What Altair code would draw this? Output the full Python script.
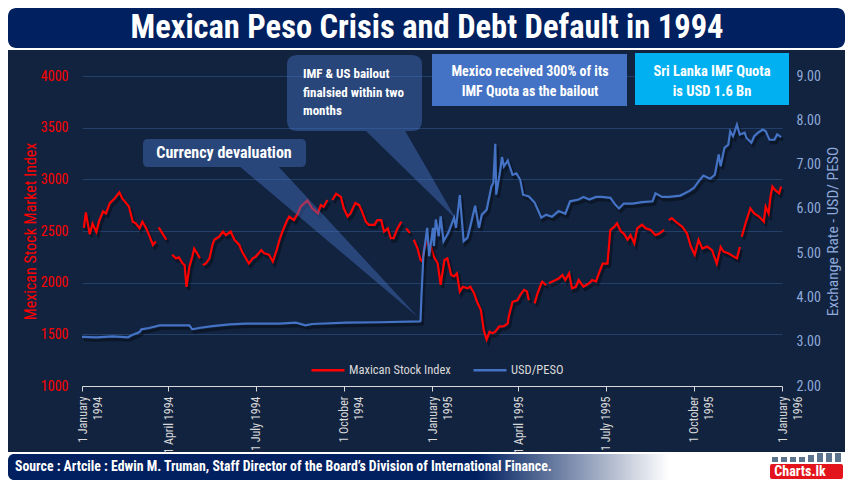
import json
import altair as alt
import pandas as pd

FONT = "Roboto Condensed, DejaVu Sans Condensed, sans-serif"

# ---------------- data ----------------
stock_dates = [
    "1994-01-03", "1994-01-05", "1994-01-09", "1994-01-12", "1994-01-16", "1994-01-19", "1994-01-23",
    "1994-01-26", "1994-01-30", "1994-02-04", "1994-02-09", "1994-02-12", "1994-02-16", "1994-02-19",
    "1994-02-23", "1994-02-26", "1994-03-02", "1994-03-05", "1994-03-09", "1994-03-12", "1994-03-16",
    "1994-03-19", "1994-03-20", "1994-03-22", "1994-03-26", "1994-03-30", "1994-04-01", "1994-04-05",
    "1994-04-09", "1994-04-12", "1994-04-16", "1994-04-18", "1994-04-20", "1994-04-23", "1994-04-26",
    "1994-04-28", "1994-05-01", "1994-05-04", "1994-05-05", "1994-05-07", "1994-05-10", "1994-05-14",
    "1994-05-17", "1994-05-19", "1994-05-24", "1994-05-28", "1994-05-31", "1994-06-05", "1994-06-09",
    "1994-06-14", "1994-06-17", "1994-06-24", "1994-06-28", "1994-07-01", "1994-07-07", "1994-07-10",
    "1994-07-15", "1994-07-19", "1994-07-23", "1994-07-26", "1994-07-29", "1994-08-03", "1994-08-05",
    "1994-08-10", "1994-08-14", "1994-08-17", "1994-08-24", "1994-08-29", "1994-09-04", "1994-09-07",
    "1994-09-10", "1994-09-14", "1994-09-16", "1994-09-19", "1994-09-23", "1994-09-28", "1994-10-01",
    "1994-10-05", "1994-10-08", "1994-10-13", "1994-10-17", "1994-10-20", "1994-10-24", "1994-10-27",
    "1994-11-02", "1994-11-05", "1994-11-09", "1994-11-12", "1994-11-16", "1994-11-19", "1994-11-22",
    "1994-11-26", "1994-11-30", "1994-12-02", "1994-12-05", "1994-12-09", "1994-12-11", "1994-12-13",
    "1994-12-17", "1994-12-20", "1994-12-22", "1994-12-24", "1994-12-27", "1994-12-31",
    "1995-01-03", "1995-01-07", "1995-01-10", "1995-01-14", "1995-01-17", "1995-01-21", "1995-01-24",
    "1995-01-27", "1995-01-30", "1995-02-02", "1995-02-07", "1995-02-10", "1995-02-14", "1995-02-17",
    "1995-02-21", "1995-02-24", "1995-02-27", "1995-03-02", "1995-03-05", "1995-03-08", "1995-03-12",
    "1995-03-17", "1995-03-21", "1995-03-22", "1995-03-26", "1995-03-31", "1995-04-04", "1995-04-07",
    "1995-04-10", "1995-04-12", "1995-04-15", "1995-04-18", "1995-04-21", "1995-04-25", "1995-04-26",
    "1995-04-30", "1995-05-01", "1995-05-03", "1995-05-06", "1995-05-10", "1995-05-13", "1995-05-17",
    "1995-05-20", "1995-05-24", "1995-05-27", "1995-05-31", "1995-06-03", "1995-06-08", "1995-06-14",
    "1995-06-17", "1995-06-21", "1995-06-24", "1995-06-28", "1995-07-03", "1995-07-06", "1995-07-10",
    "1995-07-13", "1995-07-17", "1995-07-20", "1995-07-24", "1995-07-27", "1995-07-31", "1995-08-03",
    "1995-08-08", "1995-08-12", "1995-08-17", "1995-08-22", "1995-08-26", "1995-08-31", "1995-09-02",
    "1995-09-05", "1995-09-08", "1995-09-14", "1995-09-19", "1995-09-24", "1995-09-28", "1995-10-02",
    "1995-10-06", "1995-10-10", "1995-10-15", "1995-10-20", "1995-10-25", "1995-10-29", "1995-11-01",
    "1995-11-06", "1995-11-12", "1995-11-15", "1995-11-18", "1995-11-19", "1995-11-20", "1995-11-24",
    "1995-11-29", "1995-12-03", "1995-12-08", "1995-12-13", "1995-12-15", "1995-12-18", "1995-12-20",
    "1995-12-22", "1995-12-25", "1995-12-29", "1995-12-31",
]
stock_values = [
    2530, 2680, 2470, 2570, 2490, 2600, 2690,
    2670, 2770, 2815, 2875, 2815, 2770, 2735,
    2590, 2575, 2525, 2590, 2525, 2460, 2365,
    2400, None, 2535, 2475, 2415, None, 2270,
    2235, 2245, 2185, 2170, 1960, 2155, 2250,
    2330, 2285, 2235, None, 2170, 2185, 2235,
    2365, 2415, 2445, 2495, 2460, 2495, 2415,
    2365, 2300, 2185, 2235, 2250, 2315, 2285,
    2270, 2205, 2315, 2415, 2495, 2605, 2640,
    2605, 2670, 2735, 2795, 2720, 2670, 2750,
    2735, 2800, None, 2800, 2860, 2830, 2720,
    2640, 2670, 2770, 2750, 2690, 2590, 2560,
    2560, 2605, 2605, 2495, 2525, 2430, 2430,
    2525, 2590, None, 2525, 2480, None, 2415,
    2330, 2220, 2205, 2330, 2395, 2350,
    2250, 2185, 1980, 2220, 2235, 2075, 2060,
    2090, 1915, 1960, 1945, 1960, 1895, 1815,
    1735, 1540, 1450, 1525, 1510, 1525, 1575,
    1580, 1605, 1670, 1815, 1830, 1895, 1930,
    1915, 1830, None, 1800, 1895, 1995, 2010,
    1975, None, 1995, 2010, 2025, 2040, 2075,
    2025, 2090, 1945, 1960, 2025, 1960, 1995,
    2025, 2010, 2090, 2185, 2185, 2510, 2540,
    2575, 2495, 2475, 2415, 2460, 2380, 2525,
    2560, 2525, 2510, 2460, 2475, 2510, None,
    2605, 2625, 2575, 2540, 2475, 2350, 2270,
    2415, 2330, 2350, 2315, 2185, 2345, 2300,
    2285, 2250, 2235, 2345, None, 2445, 2575,
    2720, 2670, 2640, 2590, 2735, 2670, 2830,
    2930, 2895, 2865, 2930,
]

peso_dates = [
    "1994-01-01", "1994-01-16", "1994-02-02", "1994-02-18", "1994-02-23", "1994-03-02", "1994-03-04",
    "1994-03-12", "1994-03-23", "1994-04-23", "1994-04-26", "1994-05-03", "1994-05-17", "1994-06-04",
    "1994-06-21", "1994-07-26", "1994-08-12", "1994-08-22", "1994-08-29", "1994-10-03", "1994-11-07",
    "1994-12-19", "1994-12-20", "1994-12-21", "1994-12-23", "1994-12-27", "1994-12-29",
    "1995-01-02", "1995-01-03", "1995-01-05", "1995-01-08", "1995-01-10", "1995-01-13", "1995-01-18",
    "1995-01-24", "1995-01-26", "1995-01-30", "1995-02-03", "1995-02-07", "1995-02-10", "1995-02-15",
    "1995-02-19", "1995-02-22", "1995-02-27", "1995-03-04", "1995-03-06", "1995-03-08", "1995-03-09",
    "1995-03-13", "1995-03-15", "1995-03-17", "1995-03-21", "1995-03-26", "1995-03-30", "1995-04-03",
    "1995-04-06", "1995-04-12", "1995-04-18", "1995-04-22", "1995-04-25", "1995-04-30", "1995-05-06",
    "1995-05-13", "1995-05-20", "1995-05-25", "1995-06-03", "1995-06-08", "1995-06-14", "1995-06-21",
    "1995-06-27", "1995-07-06", "1995-07-11", "1995-07-15", "1995-07-20", "1995-07-29", "1995-08-08",
    "1995-08-19", "1995-08-22", "1995-08-29", "1995-09-05", "1995-09-17", "1995-09-26", "1995-10-01",
    "1995-10-06", "1995-10-11", "1995-10-18", "1995-10-23", "1995-10-27", "1995-10-29", "1995-11-02",
    "1995-11-06", "1995-11-08", "1995-11-11", "1995-11-15", "1995-11-18", "1995-11-23", "1995-11-25",
    "1995-11-30", "1995-12-03", "1995-12-07", "1995-12-12", "1995-12-15", "1995-12-19", "1995-12-24",
    "1995-12-27", "1995-12-31",
]
peso_values = [
    3.11, 3.10, 3.12, 3.10, 3.16, 3.22, 3.28,
    3.31, 3.37, 3.37, 3.28, 3.31, 3.35, 3.39,
    3.41, 3.41, 3.43, 3.37, 3.40, 3.43, 3.44,
    3.46, 3.47, 4.03, 4.93, 5.57, 4.93,
    5.57, 5.16, 5.76, 5.38, 5.83, 5.27, 5.46,
    5.80, 5.57, 6.31, 5.27, 5.35, 5.61, 6.07,
    5.57, 5.87, 5.98, 6.51, 6.59, 7.47, 6.32,
    6.85, 7.17, 6.96, 7.09, 6.77, 6.80, 6.66,
    6.32, 6.28, 6.14, 5.95, 5.80, 5.87, 5.82,
    5.95, 5.89, 6.17, 6.21, 6.27, 6.21, 6.27,
    6.27, 6.25, 6.10, 6.01, 6.12, 6.12, 6.15,
    6.17, 6.35, 6.27, 6.27, 6.30, 6.40, 6.47,
    6.62, 6.75, 6.68, 6.77, 7.23, 6.96, 7.38,
    7.45, 7.75, 7.64, 7.90, 7.68, 7.72, 7.60,
    7.49, 7.64, 7.72, 7.79, 7.75, 7.56, 7.56,
    7.68, 7.62,
]

series_names = ["Maxican Stock Index", "USD/PESO"]
series_colors = ["#ff0000", "#4472c4"]

tick_dates = ["1994-01", "1994-04", "1994-07", "1994-10", "1995-01", "1995-04", "1995-07", "1995-10", "1996-01"]
tick_labels = ["1 January|1994", "1 April 1994", "1 July 1994", "1 October|1994", "1 January|1995",
               "1 April 1995", "1 July 1995", "1 October|1995", "1 January|1996"]
left_ticks = [1000, 1500, 2000, 2500, 3000, 3500, 4000]
right_ticks = [2, 3, 4, 5, 6, 7, 8, 9]

title_text = "Mexican Peso Crisis and Debt Default in 1994"
source_text = "Source : Artcile : Edwin M. Truman, Staff Director of the Board\u2019s Division of International Finance."
note_devaluation = "Currency devaluation"
note_bailout = "IMF & US bailout\nfinalsied  within two\nmonths"
note_quota = "Mexico received 300% of its\nIMF Quota as the bailout"
note_srilanka = "Sri Lanka IMF Quota\nis USD 1.6 Bn"


def to_frame(dates, values, name):
    rows, seg = [], 0
    for d, v in zip(dates, values):
        if v is None:
            seg += 1
            continue
        rows.append({"date": d, "value": v, "seg": seg, "series": name})
    return pd.DataFrame(rows)


stock_df = to_frame(stock_dates, stock_values, series_names[0])
peso_df = to_frame(peso_dates, peso_values, series_names[1])

# ---------------- scales / axes ----------------
def dt(s):
    y, m = s.split("-")
    return alt.DateTime(year=int(y), month=int(m), date=1, utc=True)

label_expr = "split({}[indexof({}, utcFormat(datum.value, '%Y-%m'))], '|')".format(
    json.dumps(tick_labels), json.dumps(tick_dates))

x_enc = alt.X(
    "date:T",
    scale=alt.Scale(type="utc", domain=[dt("1994-01"), dt("1996-01")]),
    axis=alt.Axis(values=[dt(t) for t in tick_dates], labelExpr=label_expr, labelAngle=270,
                  labelAlign="right", labelBaseline="middle", labelColor="#d9d9d9", labelFont=FONT,
                  labelFontSize=12, labelLineHeight=15, labelPadding=5, tickSize=5, tickColor="#d9d9d9",
                  domainColor="#d9d9d9", domainWidth=1.2, grid=False, title=None, labelOverlap=False,
                  labelFlush=False, labelBound=False, zindex=1),
)

color_enc = alt.Color("series:N", scale=alt.Scale(domain=series_names, range=series_colors),
                      legend=alt.Legend(orient="none", legendX=228, legendY=276, direction="horizontal",
                                        title=None, symbolType="stroke", symbolSize=1089,
                                        symbolStrokeWidth=2.5, labelColor="#d9d9d9", labelFont=FONT,
                                        labelFontSize=12.5, labelOffset=3, columnPadding=17))

y_left = alt.Y("value:Q", scale=alt.Scale(domain=[1000, 4000], nice=False, zero=False),
               axis=alt.Axis(values=left_ticks, format="d", title="Mexican Stock Market Index",
                             titleColor="#ff0000", titleFont=FONT, titleFontSize=16,
                             titleFontWeight="normal", titlePadding=2,
                             labelColor="#ff0000", labelFont=FONT, labelFontSize=14, labelPadding=14,
                             domain=False, ticks=False, grid=True, gridColor="#22406a", gridWidth=1))

y_right = alt.Y("value:Q", scale=alt.Scale(domain=[2, 9], nice=False, zero=False),
                axis=alt.Axis(values=right_ticks, orient="right", format=".2f",
                              title="Exchange Rate - USD/ PESO", titleColor="#8faadc", titleFont=FONT,
                              titleFontSize=15.5, titleFontWeight="normal", titleAngle=270,
                              titleBaseline="top", titlePadding=5, labelColor="#8faadc", labelFont=FONT,
                              labelFontSize=14, labelPadding=14, domain=False, ticks=False, grid=False))

stock_base = alt.Chart(stock_df)
peso_base = alt.Chart(peso_df)

stock_group = alt.layer(
    stock_base.mark_line(color="black", opacity=0.35, strokeWidth=3, xOffset=2, yOffset=3).encode(
        x=x_enc, y=y_left, detail="seg:N"),
    stock_base.mark_line(strokeWidth=2.2).encode(x=x_enc, y=y_left, detail="seg:N", color=color_enc),
)
peso_group = alt.layer(
    peso_base.mark_line(color="black", opacity=0.35, strokeWidth=3, xOffset=2, yOffset=3).encode(
        x=x_enc, y=y_right, detail="seg:N"),
    peso_base.mark_line(strokeWidth=2.2).encode(x=x_enc, y=y_right, detail="seg:N", color=color_enc),
)

# ---------------- decorations (pixel space, origin = plot top-left) ----------------
one = alt.Chart(pd.DataFrame({"k": [0]}))


def rect(x0, y0, x1, y1, **kw):
    return one.mark_rect(**kw).encode(x=alt.value(x0), x2=alt.value(x1), y=alt.value(y0), y2=alt.value(y1))


def text(x, y, s, **kw):
    base = dict(font=FONT, color="white", fontWeight="bold")
    base.update(kw)
    return one.mark_text(text=s, lineBreak="\n", **base).encode(x=alt.value(x), y=alt.value(y))


def rrect_path(x0, y0, x1, y1, r):
    return (f"M{x0+r},{y0}H{x1-r}Q{x1},{y0} {x1},{y0+r}V{y1-r}Q{x1},{y1} {x1-r},{y1}"
            f"H{x0+r}Q{x0},{y1} {x0},{y1-r}V{y0+r}Q{x0},{y0} {x0+r},{y0}Z")


def shape(path, **kw):
    return one.mark_point(shape=path, size=4, filled=True, strokeWidth=0, **kw).encode(
        x=alt.value(0), y=alt.value(0))


footer_grad = alt.Gradient(gradient="linear", x1=0, y1=0, x2=1, y2=0, stops=[
    alt.GradientStop(offset=0, color="#002060"), alt.GradientStop(offset=0.56, color="#002060"),
    alt.GradientStop(offset=0.79, color="#ffffff"), alt.GradientStop(offset=1, color="#ffffff")])

deco_back = [
    rect(-74, -68, 763, -26, color="white"),
    rect(-74, -68, 763, -28, color="#002060", cornerRadius=8),
    text(345, -48, title_text, fontSize=32.5, align="center", baseline="middle"),
    rect(-74, 376, 763, 404, color="white"),
    rect(-74, 378, 763, 404, fill=footer_grad, cornerRadius=6),
    text(-67, 391, source_text, fontSize=13.8, align="left", baseline="middle"),
    shape("M690,381h6v5h-6zM699,381h6v5h-6zM708,381h6v5h-6zM717,381h6v5h-6zM726,379h6v7h-6z"
          "M735,377h6v9h-6zM744,377h6v9h-6zM753,377h6v9h-6z", color="#17375e"),
    rect(688, 388, 761, 403, color="#e3141b", cornerRadius=2),
    text(718, 396, "Charts.lk", fontSize=14, align="center", baseline="middle"),
]

deco_front = [
    shape(rrect_path(61, 63, 224, 91, 5) + "M156,89L195,89L336,241Z", color="#4472c4", opacity=0.45),
    text(142, 77, note_devaluation, fontSize=16, align="center", baseline="middle"),
    shape(rrect_path(205, -21, 340, 55, 10) + "M282,53L322,53L374,143Z", color="#4472c4", opacity=0.45),
    text(221, -2, note_bailout, fontSize=13, align="left", baseline="middle", lineHeight=18.5),
    rect(350, -22, 545, 30, color="#4472c4"),
    text(448, -4, note_quota, fontSize=14, align="center", baseline="middle", lineHeight=20),
    rect(553, -23, 707, 29, color="#00b0f0"),
    text(630, -4, note_srilanka, fontSize=14.5, align="center", baseline="middle", lineHeight=20),
]

chart = alt.layer(*deco_back, stock_group, peso_group, *deco_front).resolve_scale(
    y="independent"
).properties(
    width=700, height=310, background="#12233f",
    padding={"left": 74, "top": 68, "right": 63, "bottom": 94},
    autosize=alt.AutoSizeParams(type="none"),
).configure_view(strokeWidth=0)

chart.save("out.html", embed_options={"renderer": "svg", "actions": False})
